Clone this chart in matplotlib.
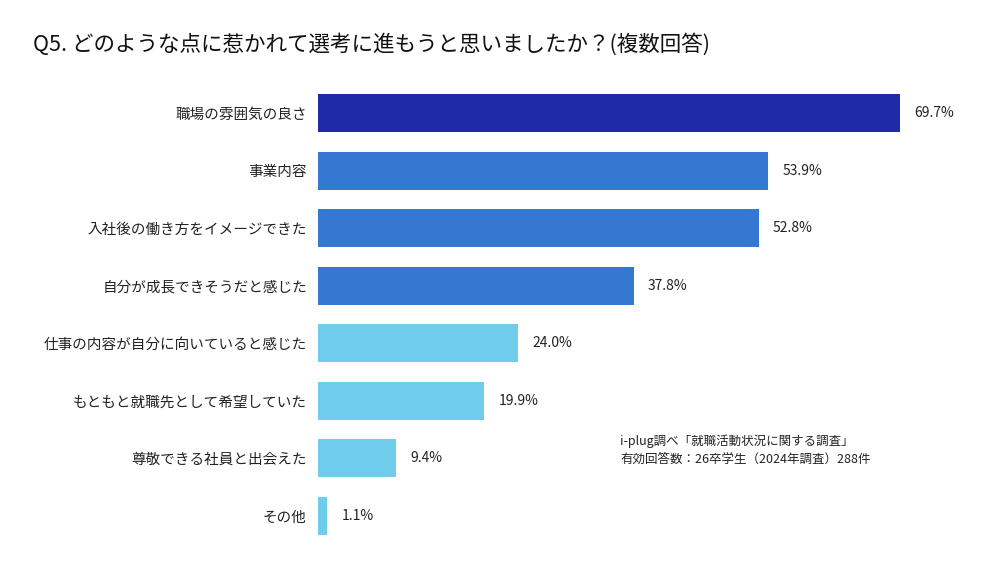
import matplotlib
matplotlib.use("Agg")
import matplotlib.pyplot as plt

plt.rcParams["font.family"] = ["Noto Sans CJK JP", "DejaVu Sans"]

labels = [
    "職場の雰囲気の良さ",
    "事業内容",
    "入社後の働き方をイメージできた",
    "自分が成長できそうだと感じた",
    "仕事の内容が自分に向いていると感じた",
    "もともと就職先として希望していた",
    "尊敬できる社員と出会えた",
    "その他",
]
values = [69.7, 53.9, 52.8, 37.8, 24.0, 19.9, 9.4, 1.1]
colors = ["#1e2aa8", "#3478d2", "#3478d2", "#3478d2",
          "#70cceb", "#70cceb", "#70cceb", "#70cceb"]

fig = plt.figure(figsize=(10, 5.61), dpi=100)
ax = fig.add_axes([0.318, 0.029, 0.632, 0.821])

y = list(range(len(values)))
ax.barh(y, values, height=0.66, color=colors)
ax.set_ylim(len(values) - 0.5, -0.5)
ax.set_xlim(0, 75.7)

for yi, v in zip(y, values):
    ax.text(v + 1.7, yi, f"{v:.1f}%", va="center", ha="left", fontsize=10, color="#222222")

ax.set_yticks(y)
ax.set_yticklabels(labels, fontsize=10.5, color="#222222")
ax.tick_params(axis="y", length=0, pad=8)
ax.set_xticks([])
for s in ax.spines.values():
    s.set_visible(False)

fig.text(0.033, 0.92, "Q5. どのような点に惹かれて選考に進もうと思いましたか？(複数回答)",
         fontsize=15.5, color="#111111", va="center", ha="left")

fig.text(0.62, 0.198, "i-plug調べ「就職活動状況に関する調査」\n有効回答数：26卒学生（2024年調査）288件",
         fontsize=9, color="#222222", va="center", ha="left", linespacing=1.45)

fig.savefig("out.png", dpi=100, facecolor="white")
